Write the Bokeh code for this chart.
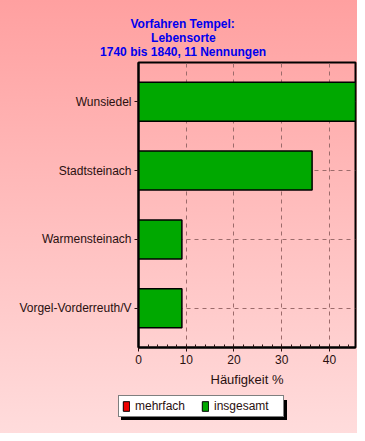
from bokeh.plotting import figure
from bokeh.layouts import column, row
from bokeh.models import (FactorRange, Range1d, FixedTicker, Title, Legend, LegendItem)
from bokeh.embed import file_html
from bokeh.resources import INLINE

# ---- data ----
places = ["Wunsiedel", "Stadtsteinach", "Warmensteinach", "Vorgel-Vorderreuth/V"]
insgesamt = [45.45, 36.36, 9.09, 9.09]
mehrfach = [0, 0, 0, 0]
x_ticks = [0, 10, 20, 30, 40]
title_lines = ["Vorfahren Tempel:", "Lebensorte", "1740 bis 1840, 11 Nennungen"]
x_label = "Häufigkeit %"
legend_labels = ["mehrfach", "insgesamt"]
colors = {"mehrfach": "#ee0000", "insgesamt": "#00a800"}

FONT = "Liberation Sans"
TXT = "#2a1010"

p = figure(width=357, height=390, output_backend="svg", toolbar_location=None,
           y_range=FactorRange(factors=places[::-1], range_padding=0.07,
                               range_padding_units="absolute"),
           x_range=Range1d(0, max(insgesamt)),
           min_border_left=138, min_border_right=2, min_border_top=62,
           min_border_bottom=43)
p.border_fill_color = None
p.background_fill_color = None
p.outline_line_color = "black"
p.outline_line_width = 2

# grid
p.xgrid.ticker = FixedTicker(ticks=x_ticks[1:])
p.xgrid.grid_line_color = "#9c6b6b"
p.xgrid.grid_line_dash = "4 4"
p.ygrid.grid_line_color = "#9c6b6b"
p.ygrid.grid_line_dash = "4 4"

# bars
p.hbar(y=places, right=insgesamt, left=0, height=0.567,
       fill_color=colors["insgesamt"], line_color="black", line_width=1.5)
p.hbar(y=places, right=mehrfach, left=0, height=0.567,
       fill_color=colors["mehrfach"], line_color="black", line_width=1)

# axes
xa = p.xaxis[0]
xa.ticker = FixedTicker(ticks=x_ticks, minor_ticks=list(range(0, 46, 2)))
xa.axis_line_width = 2
xa.axis_line_color = "black"
xa.major_tick_out = 4
xa.major_tick_in = 0
xa.minor_tick_in = 3
xa.minor_tick_out = 0
xa.major_tick_line_color = TXT
xa.minor_tick_line_color = TXT
xa.major_label_text_font = FONT
xa.major_label_text_font_size = "12px"
xa.major_label_text_color = TXT
xa.major_label_standoff = 3
xa.axis_label = x_label
xa.axis_label_text_font = FONT
xa.axis_label_text_font_size = "13px"
xa.axis_label_text_font_style = "normal"
xa.axis_label_text_color = TXT
xa.axis_label_standoff = 5

ya = p.yaxis[0]
ya.axis_line_width = 2
ya.axis_line_color = "black"
ya.major_tick_out = 4
ya.major_tick_in = 0
ya.major_tick_line_color = TXT
ya.major_label_text_font = FONT
ya.major_label_text_font_size = "12px"
ya.major_label_text_color = TXT
ya.major_label_standoff = 3

# title lines (stacked upward from the frame; first added is closest to frame)
title_offsets = [-8, 12.6, -38.4]
p.add_layout(Title(text=" ", text_font_size="3px", standoff=0), "above")
for t, off in list(zip(title_lines, title_offsets))[::-1]:
    p.add_layout(Title(text=t, align="left", offset=off, standoff=-2,
                       text_font=FONT, text_font_size="12px",
                       text_font_style="bold", text_color="#0000ee"), "above")

# ---- legend strip (separate small figure below) ----
lf = figure(width=357, height=43, output_backend="svg", toolbar_location=None,
            x_range=Range1d(0, 357), y_range=Range1d(0, 43),
            min_border_left=0, min_border_right=0, min_border_top=0,
            min_border_bottom=0, x_axis_type=None, y_axis_type=None)
lf.border_fill_color = None
lf.background_fill_color = None
lf.outline_line_color = None
lf.grid.visible = False
rm = lf.hbar(y=[-100], right=[0], height=1, fill_color=colors["mehrfach"], line_color="black")
ri = lf.hbar(y=[-100], right=[0], height=1, fill_color=colors["insgesamt"], line_color="black")

def make_legend(loc, shadow):
    labels = [" ", " "] if shadow else legend_labels
    return Legend(items=[LegendItem(label=labels[0], renderers=[rm]),
                         LegendItem(label=labels[1], renderers=[ri])],
                  location=loc, orientation="horizontal",
                  glyph_width=8, glyph_height=12, label_height=12,
                  label_width=66, label_standoff=5, spacing=0, padding=3, margin=0,
                  label_text_font=FONT, label_text_font_size="12px",
                  label_text_color="black" if shadow else TXT,
                  background_fill_color="black" if shadow else "white",
                  background_fill_alpha=1.0,
                  border_line_color="black", border_line_width=1)

lf.add_layout(make_legend((121, 13), True))
lf.add_layout(make_legend((118, 16), False))

layout = column(p, row(lf), spacing=0)
layout.styles = {"background": "linear-gradient(#ffa0a0, #ffdcdc)"}

open("out.html", "w").write(file_html(layout, INLINE))
